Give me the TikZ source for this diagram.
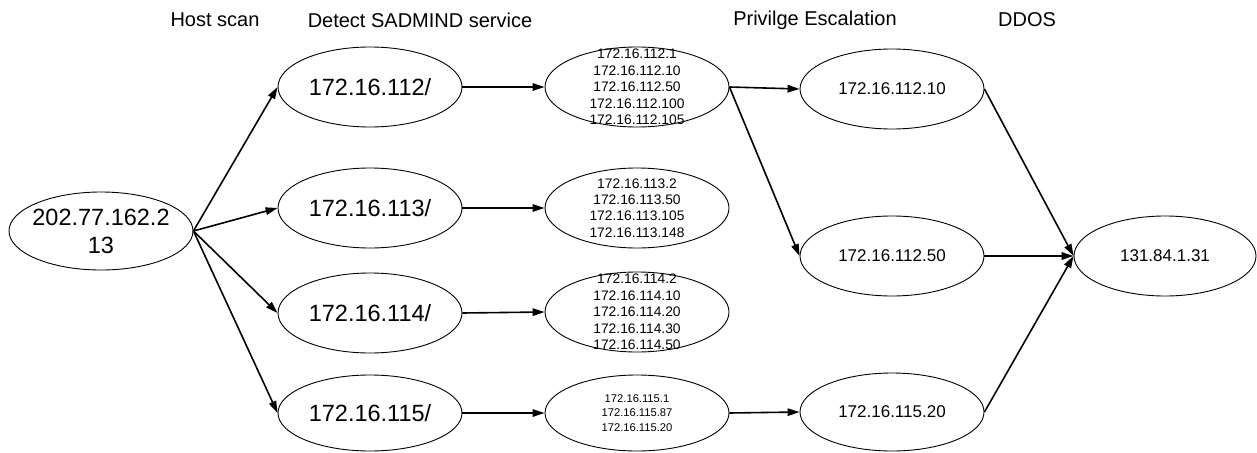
\documentclass[tikz,border=0pt]{standalone}
\usepackage{fontspec}
\setmainfont{Liberation Sans}
\usetikzlibrary{shapes.geometric,arrows.meta}

\tikzset{
  oval/.style={draw, ellipse, line width=0.9pt, inner sep=0pt,
               minimum width=184pt, minimum height=80pt},
  bigtxt/.style={font=\fontsize{23.5}{28}\selectfont, align=center, inner sep=0pt},
  midtxt/.style={font=\fontsize{17}{20}\selectfont, align=center, inner sep=0pt},
  listtxt/.style={font=\fontsize{13.8}{16.4}\selectfont, align=center, inner sep=0pt},
  smalltxt/.style={font=\fontsize{11.2}{14.5}\selectfont, align=center, inner sep=0pt},
  headtxt/.style={font=\fontsize{20}{24}\selectfont, inner sep=0pt},
  link/.style={line width=1.6pt, -{Triangle[length=12pt,width=7.5pt]}}
}

\begin{document}
\begin{tikzpicture}[x=1pt, y=-1pt]
  \useasboundingbox (0,0) rectangle (1257,452);

  % column headings
  \node[headtxt] (h1) at (215,20) {Host scan};
  \node[headtxt] (h2) at (420,20) {Detect SADMIND service};
  \node[headtxt] (h3) at (815,20) {Privilge Escalation};
  \node[headtxt] (h4) at (1027,20) {DDOS};

  % attacker
  \node[oval, minimum height=78pt] (src) at (101,231) {};
  \node[bigtxt] (srct) at (src) {202.77.162.2\\13};

  % host scan of the subnets
  \node[oval] (n112) at (370,87) {};
  \node[bigtxt] (n112t) at (n112) {172.16.112/};
  \node[oval] (n113) at (370,208) {};
  \node[bigtxt] (n113t) at (n113) {172.16.113/};
  \node[oval] (n114) at (370,313) {};
  \node[bigtxt] (n114t) at (n114) {172.16.114/};
  \node[oval, minimum height=76pt] (n115) at (370,413) {};
  \node[bigtxt] (n115t) at (n115) {172.16.115/};

  % hosts running sadmind
  \node[oval] (s112) at (637,87) {};
  \node[listtxt] (s112t) at (s112) {172.16.112.1\\172.16.112.10\\172.16.112.50\\172.16.112.100\\172.16.112.105};
  \node[oval] (s113) at (637,208) {};
  \node[listtxt] (s113t) at (s113) {172.16.113.2\\172.16.113.50\\172.16.113.105\\172.16.113.148};
  \node[oval] (s114) at (637,312) {};
  \node[listtxt] (s114t) at (s114) {172.16.114.2\\172.16.114.10\\172.16.114.20\\172.16.114.30\\172.16.114.50};
  \node[oval, minimum height=76pt] (s115) at (637,413) {};
  \node[smalltxt] (s115t) at (s115) {172.16.115.1\\172.16.115.87\\172.16.115.20};

  % escalated hosts
  \node[oval] (p10) at (892,89) {};
  \node[midtxt] (p10t) at (p10) {172.16.112.10};
  \node[oval] (p50) at (892,256) {};
  \node[midtxt] (p50t) at (p50) {172.16.112.50};
  \node[oval, minimum height=78pt] (p20) at (892,412) {};
  \node[midtxt] (p20t) at (p20) {172.16.115.20};

  % DDoS victim
  \node[oval, minimum width=182pt] (dst) at (1165,256) {};
  \node[midtxt] (dstt) at (dst) {131.84.1.31};

  % connectors
  \foreach \t in {n112,n113,n114,n115}
    \draw[link] (src.east) -- (\t.west);
  \draw[link] (n112.east) -- (s112.west);
  \draw[link] (n113.east) -- (s113.west);
  \draw[link] (n114.east) -- (s114.west);
  \draw[link] (n115.east) -- (s115.west);
  \draw[link] (s112.east) -- (p10.west);
  \draw[link] (s112.east) -- (p50.west);
  \draw[link] (s115.east) -- (p20.west);
  \draw[link] (p10.east) -- (dst.west);
  \draw[link] (p50.east) -- (dst.west);
  \draw[link] (p20.east) -- (dst.west);
\end{tikzpicture}
\end{document}
